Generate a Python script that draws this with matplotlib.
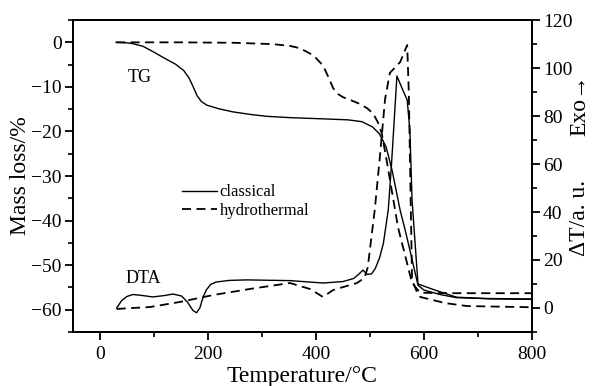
import matplotlib
matplotlib.use("Agg")
import matplotlib.pyplot as plt
from matplotlib.ticker import MultipleLocator

plt.rcParams['font.family'] = ['Liberation Serif', 'DejaVu Serif']

# TG, classical (solid)
tg_cl_T = [30, 50, 61, 80, 100, 120, 140, 155, 165, 172, 180, 188, 198, 220, 246, 280, 309, 352, 420, 460,
           485, 505, 518, 530, 541, 556, 565, 574, 589, 600, 630, 660, 720, 800]
tg_cl_m = [0, -0.1, -0.3, -0.9, -2.2, -3.6, -4.9, -6.3, -8.0, -9.8, -12.0, -13.3, -14.1, -14.9, -15.6, -16.2, -16.6, -16.9, -17.2, -17.4,
           -17.8, -19.0, -20.6, -23.5, -28.7, -37.7, -42.0, -46.6, -54.5, -55.6, -56.6, -57.3, -57.5, -57.6]

# TG, hydrothermal (dashed)
tg_hy_T = [30, 150, 250, 320, 352, 370, 389, 400, 413, 422, 432, 441, 450, 465, 481, 495, 506, 515, 522, 531,
           552, 578, 593, 650, 800]
tg_hy_m = [0, 0, -0.1, -0.4, -0.8, -1.3, -2.5, -3.5, -5.2, -7.5, -10.3, -11.6, -12.3, -13.0, -13.8, -14.8, -16.0, -18.0, -20.5, -26.5,
           -41.5, -54.0, -56.2, -56.3, -56.3]

# DTA, classical (solid)
dta_cl_T = [31, 40, 50, 61, 75, 98, 120, 135, 151, 162, 172, 179, 185, 191, 197, 205, 215, 240, 272, 352,
            413, 450, 470, 480, 487, 495, 503, 510, 518, 525, 534, 540, 550, 561, 569, 574, 578, 589, 620, 660,
            720, 800]
dta_cl_d = [0, 3.0, 4.8, 5.6, 5.3, 4.6, 5.2, 5.8, 5.0, 2.5, -1.0, -2.0, 0, 4.5, 7.5, 9.8, 10.8, 11.5, 11.7, 11.4,
            10.4, 11.0, 12.3, 14.2, 15.8, 14.0, 14.2, 16.5, 21.0, 27.0, 41.0, 60.0, 96.7, 90.8, 86.7, 74.0, 45.0, 10.0, 7.5, 4.5,
            3.8, 3.6]

# DTA, hydrothermal (dashed)
dta_hy_T = [31, 93, 148, 210, 280, 340, 352, 389, 413, 432, 476, 490, 496, 509, 518, 528, 537, 556, 569, 572,
            578, 587, 593, 640, 680, 800]
dta_hy_d = [-0.4, 0.4, 2.5, 5.4, 8.0, 10.0, 10.4, 7.9, 4.6, 7.5, 10.4, 12.5, 17.0, 41.0, 62.0, 87.0, 98.0, 102.5, 109.6, 90.0,
            11.7, 6.7, 4.6, 2.0, 0.8, 0.3]

fig = plt.figure(figsize=(5.93, 3.86), dpi=100)
ax = fig.add_axes([0.123, 0.140, 0.774, 0.808])
ax2 = ax.twinx()

dash = (0, (5, 3))
l1, = ax.plot(tg_cl_T, tg_cl_m, color='black', lw=1.0)
l2, = ax.plot(tg_hy_T, tg_hy_m, color='black', lw=1.3, linestyle=dash)
ax2.plot(dta_cl_T, dta_cl_d, color='black', lw=1.0)
ax2.plot(dta_hy_T, dta_hy_d, color='black', lw=1.3, linestyle=dash)

ax.set_xlim(-50, 800)
ax.set_ylim(-65, 5)
ax2.set_ylim(-10, 120)

ax.xaxis.set_major_locator(MultipleLocator(200))
ax.xaxis.set_minor_locator(MultipleLocator(100))
ax.yaxis.set_major_locator(MultipleLocator(10))
ax.yaxis.set_minor_locator(MultipleLocator(5))
ax2.yaxis.set_major_locator(MultipleLocator(20))
ax2.yaxis.set_minor_locator(MultipleLocator(10))

for a in (ax, ax2):
    for s in a.spines.values():
        s.set_linewidth(1.4)
    a.tick_params(which='major', length=6, width=1.3, labelsize=14, direction='out', pad=2)
    a.tick_params(which='minor', length=3.5, width=1.2, direction='out')
ax.tick_params(axis='x', which='major', pad=4)

ax.set_yticks([0, -10, -20, -30, -40, -50, -60])
ax.set_yticklabels(['0', '\u221210', '\u221220', '\u221230', '\u221240', '\u221250', '\u221260'])

ax.set_xlabel('Temperature/\u00b0C', fontsize=17, labelpad=2)
ax.set_ylabel('Mass loss/%', fontsize=17, labelpad=0)

fig.text(0.978, 0.728, 'Exo\u2192', rotation=90, fontsize=17, ha='center', va='center')
fig.text(0.978, 0.435, '\u0394T/a. u.', rotation=90, fontsize=17, ha='center', va='center')

ax.text(74, -7.8, 'TG', fontsize=13, ha='center', va='center')
ax.text(80, -53, 'DTA', fontsize=13, ha='center', va='center')

ax.legend([l1, l2], ['classical', 'hydrothermal'], loc='upper left',
          bbox_to_anchor=(0.22, 0.5), frameon=False, fontsize=12, borderpad=0,
          handlelength=2.1, handletextpad=0.15, labelspacing=0.15)

fig.savefig('out.png', dpi=100)
